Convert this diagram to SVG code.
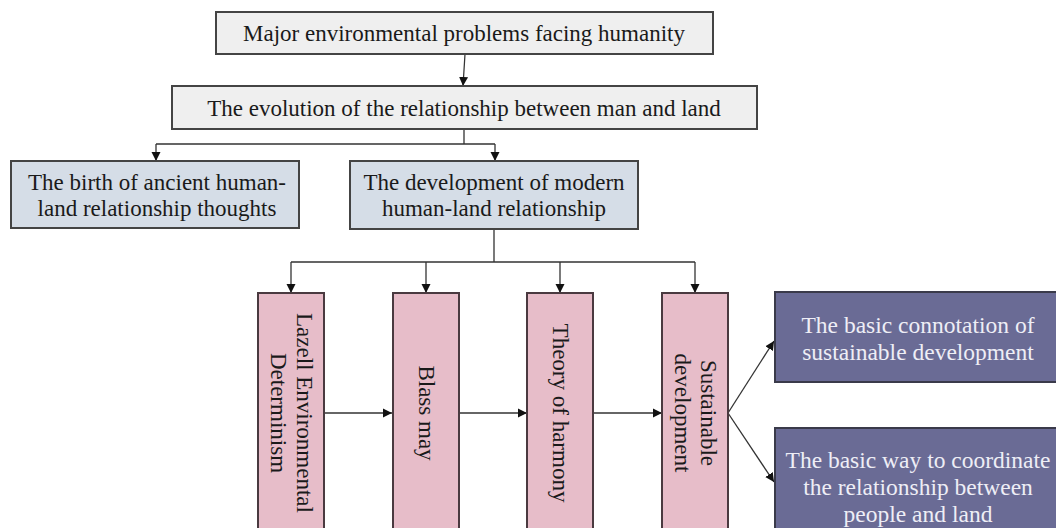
<svg xmlns="http://www.w3.org/2000/svg" width="1056" height="528" viewBox="0 0 1056 528">
<defs>
<marker id="arr" markerUnits="userSpaceOnUse" markerWidth="10" markerHeight="10" refX="9" refY="5" orient="auto">
<path d="M0,0.5 L9,5 L0,9.5 z" fill="#111"/>
</marker>
<style>
.grey{fill:#efefef;stroke:#444;stroke-width:2}
.blue{fill:#d5dde7;stroke:#444;stroke-width:2}
.pink{fill:#e7bdc9;stroke:#4a3a40;stroke-width:2}
.purple{fill:#6a6b95;stroke:#3a3a4a;stroke-width:2}
text{font-family:"Liberation Serif","Times New Roman",serif;font-size:23px;fill:#1a1a1a;text-anchor:middle;dominant-baseline:central}
.light{fill:#eeeef6;font-size:23.5px}
.con{fill:none;stroke:#333;stroke-width:1.3}
</style>
</defs>
<rect width="1056" height="528" fill="#fff"/>
<g id="connectors">
<path class="con" d="M465,54 L463,86" marker-end="url(#arr)"/>
<path class="con" d="M464,129 V144 M156,144 H495"/>
<path class="con" d="M156,144 V161" marker-end="url(#arr)"/>
<path class="con" d="M495,144 V161" marker-end="url(#arr)"/>
<path class="con" d="M494,229 V262 M291,262 H695"/>
<path class="con" d="M291,262 V293" marker-end="url(#arr)"/>
<path class="con" d="M426,262 V293" marker-end="url(#arr)"/>
<path class="con" d="M560,262 V293" marker-end="url(#arr)"/>
<path class="con" d="M695,262 V293" marker-end="url(#arr)"/>
<path class="con" d="M324,413 H392" marker-end="url(#arr)"/>
<path class="con" d="M459,413 H527" marker-end="url(#arr)"/>
<path class="con" d="M593,413 H662" marker-end="url(#arr)"/>
<path class="con" d="M728,413 L774,341" marker-end="url(#arr)"/>
<path class="con" d="M728,413 L774,482" marker-end="url(#arr)"/>
</g>
<g id="n-major">
<rect class="grey" x="216" y="12" width="497" height="42"/>
<text x="464" y="33">Major environmental problems facing humanity</text>
</g>
<g id="n-evolution">
<rect class="grey" x="172" y="86" width="585" height="43"/>
<text x="464" y="108">The evolution of the relationship between man and land</text>
</g>
<g id="n-ancient">
<rect class="blue" x="11" y="161" width="288" height="67"/>
<text x="157" y="182">The birth of ancient human-</text>
<text x="157" y="208">land relationship thoughts</text>
</g>
<g id="n-modern">
<rect class="blue" x="350" y="161" width="288" height="68"/>
<text x="494" y="182">The development of modern</text>
<text x="494" y="208">human-land relationship</text>
</g>
<g id="n-lazell">
<rect class="pink" x="258" y="293" width="66" height="240"/>
<g transform="translate(291,413) rotate(90)">
<text x="0" y="-13">Lazell Environmental</text>
<text x="0" y="13">Determinism</text>
</g>
</g>
<g id="n-blass">
<rect class="pink" x="393" y="293" width="66" height="240"/>
<text transform="translate(426,413) rotate(90)" x="0" y="0">Blass may</text>
</g>
<g id="n-harmony">
<rect class="pink" x="527" y="293" width="66" height="240"/>
<text transform="translate(560,413) rotate(90)" x="0" y="0">Theory of harmony</text>
</g>
<g id="n-sustainable">
<rect class="pink" x="662" y="293" width="66" height="240"/>
<g transform="translate(695,413) rotate(90)">
<text x="0" y="-13">Sustainable</text>
<text x="0" y="13">development</text>
</g>
</g>
<g id="n-connotation">
<rect class="purple" x="775" y="292" width="290" height="90"/>
<text class="light" x="918" y="325">The basic connotation of</text>
<text class="light" x="918" y="352">sustainable development</text>
</g>
<g id="n-way">
<rect class="purple" x="775" y="428" width="290" height="110"/>
<text class="light" x="918" y="460">The basic way to coordinate</text>
<text class="light" x="918" y="487">the relationship between</text>
<text class="light" x="918" y="514">people and land</text>
</g>
</svg>
